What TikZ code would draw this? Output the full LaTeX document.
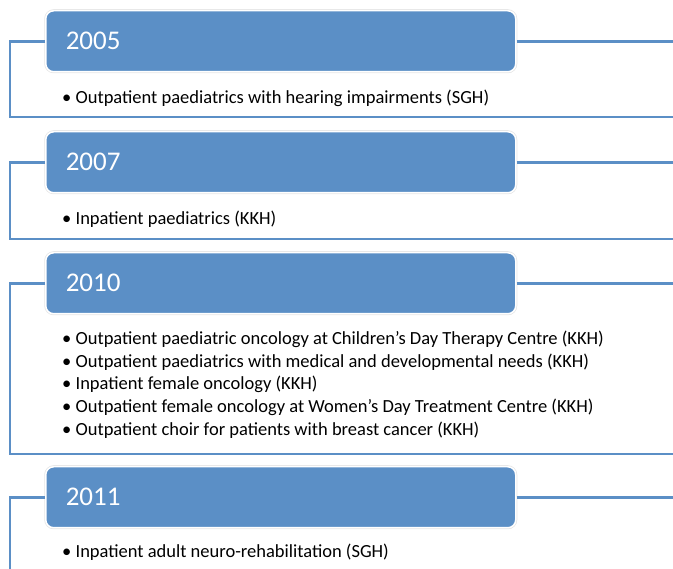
\documentclass[tikz,border=0pt]{standalone}
\usepackage{fontspec}
\setmainfont{Carlito}
\usepackage{tikz}
\definecolor{tlblue}{RGB}{91,143,198}

\begin{document}
\begin{tikzpicture}[x=1pt,y=-1pt,
  yearbox/.style={fill=tlblue,draw=white,line width=1.5pt,
    preaction={draw=black!10,line width=3pt},rounded corners=8pt,
    anchor=north west,text width=430pt,inner xsep=20pt,inner ysep=0pt,
    minimum height=61pt,align=left,text=white,font=\fontsize{27}{27}\selectfont},
  items/.style={anchor=west,align=left,inner sep=0pt,
    font=\fontsize{18.5}{22.7}\selectfont},
  frame/.style={draw=tlblue,line width=2.6pt}]
\useasboundingbox (0,0) rectangle (673,569);
\coordinate (rim) at (673,0);
\node[yearbox] (y2005) at (45,10) {2005};
\node[items] (i2005) at (62,98) {\textbullet\ Outpatient paediatrics with hearing impairments (SGH)};
\coordinate (e2005) at (673,117);
\draw[frame] (y2005.west) -- ++(-35,0) |- (e2005);
\draw[frame] (y2005.east) -- (y2005.east -| rim);
\node[yearbox] (y2007) at (45,131) {2007};
\node[items] (i2007) at (62,219) {\textbullet\ Inpatient paediatrics (KKH)};
\coordinate (e2007) at (673,239);
\draw[frame] (y2007.west) -- ++(-35,0) |- (e2007);
\draw[frame] (y2007.east) -- (y2007.east -| rim);
\node[yearbox] (y2010) at (45,252) {2010};
\node[items] (i2010) at (62,384.5) {\textbullet\ Outpatient paediatric oncology at Children’s Day Therapy Centre (KKH)\\
  \textbullet\ Outpatient paediatrics with medical and developmental needs (KKH)\\
  \textbullet\ Inpatient female oncology (KKH)\\
  \textbullet\ Outpatient female oncology at Women’s Day Treatment Centre (KKH)\\
  \textbullet\ Outpatient choir for patients with breast cancer (KKH)};
\coordinate (e2010) at (673,454);
\draw[frame] (y2010.west) -- ++(-35,0) |- (e2010);
\draw[frame] (y2010.east) -- (y2010.east -| rim);
\node[yearbox] (y2011) at (45,466) {2011};
\node[items] (i2011) at (62,552) {\textbullet\ Inpatient adult neuro-rehabilitation (SGH)};
\coordinate (e2011) at (10,575);
\draw[frame] (y2011.west) -- ++(-35,0) -- (e2011);
\draw[frame] (y2011.east) -- (y2011.east -| rim);
\end{tikzpicture}
\end{document}
